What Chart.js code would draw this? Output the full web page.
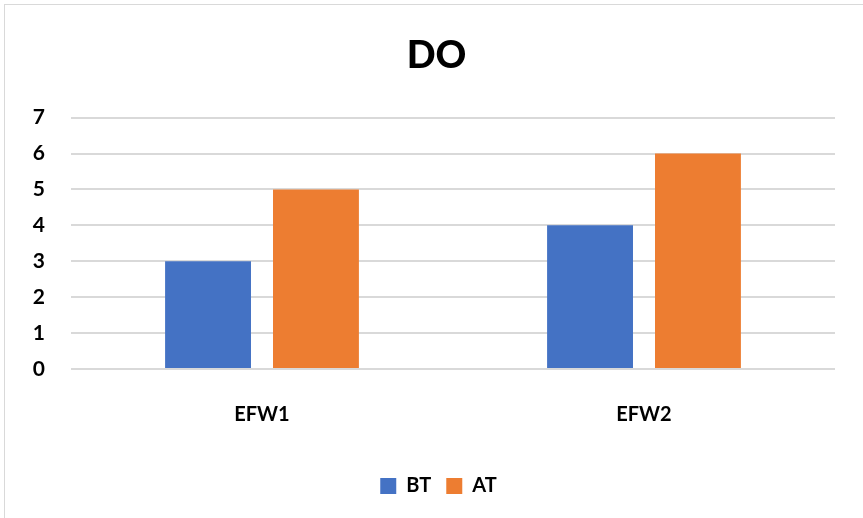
<!DOCTYPE html>
<html>
<head>
<meta charset="utf-8">
<script src="https://cdn.jsdelivr.net/npm/chart.js@4/dist/chart.umd.min.js"></script>
<style>
  html, body { margin: 0; padding: 0; background: #fff; overflow: hidden; }
  #frame { position: absolute; left: 4px; top: 4px; width: 900px; height: 600px;
           border: 1.5px solid #d9d9d9; box-sizing: border-box; }
  #wrap { position: absolute; left: 0; top: 0; width: 863px; height: 518px; }
</style>
</head>
<body>
<div id="frame"></div>
<div id="wrap"><canvas id="c" width="863" height="518"></canvas></div>
<script>
const categories = ['EFW1', 'EFW2'];
const seriesNames = ['BT', 'AT'];
const btValues = [3, 4];
const atValues = [5, 6];
const yTicks = [0, 1, 2, 3, 4, 5, 6, 7];

const FONT = 'Lato, "Open Sans", sans-serif';

// Centre the title and legend on the framed panel rather than on the padded layout area
const centreBoxes = {
  id: 'centreBoxes',
  afterLayout(chart) {
    const centre = chart.width / 2 + 5;
    const tt = chart.titleBlock;
    if (tt) {
      const dx = centre - (tt.left + tt.right) / 2;
      tt.left += dx;
      tt.right += dx;
    }
    const lg = chart.legend;
    if (lg) {
      const dx = centre + 2 - (lg.left + lg.right) / 2;
      lg.left += dx;
      lg.right += dx;
      (lg.legendHitBoxes || []).forEach(b => { b.left += dx; });
    }
  }
};

new Chart(document.getElementById('c'), {
  type: 'bar',
  data: {
    labels: categories,
    datasets: [
      { label: seriesNames[0], data: btValues, backgroundColor: '#4472C4',
        categoryPercentage: 0.565, barPercentage: 0.796 },
      { label: seriesNames[1], data: atValues, backgroundColor: '#ED7D31',
        categoryPercentage: 0.565, barPercentage: 0.796 }
    ]
  },
  plugins: [centreBoxes],
  options: {
    responsive: false,
    animation: false,
    layout: { padding: { left: 0, right: 28, top: 0, bottom: 12 } },
    plugins: {
      title: {
        display: true, text: 'DO', color: '#000',
        font: { family: FONT, size: 38, weight: 900 },
        padding: { top: 33, bottom: 39 }
      },
      legend: {
        position: 'bottom',
        labels: {
          color: '#000', boxWidth: 16, boxHeight: 16, padding: 15,
          font: { family: FONT, size: 20, weight: 'bold' }
        }
      },
      tooltip: { enabled: false }
    },
    scales: {
      x: {
        grid: { display: false, drawTicks: false },
        border: { display: false },
        ticks: { color: '#000', padding: 34, font: { family: FONT, size: 20, weight: 'bold' } }
      },
      y: {
        min: yTicks[0], max: yTicks[yTicks.length - 1],
        afterBuildTicks: s => { s.ticks = yTicks.map(v => ({ value: v })); },
        afterFit: s => { s.width = 71; },
        grid: { color: '#d9d9d9', lineWidth: 2, drawTicks: false },
        border: { display: false },
        ticks: { color: '#000', padding: 26, font: { family: FONT, size: 21, weight: 'bold' } }
      }
    }
  }
});
</script>
</body>
</html>
